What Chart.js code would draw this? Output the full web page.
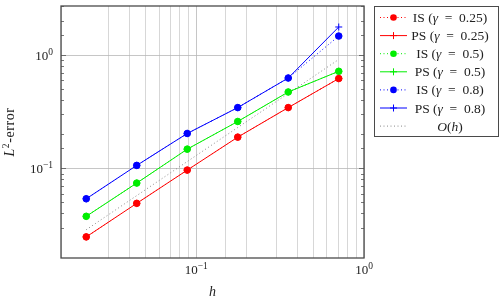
<!DOCTYPE html>
<html lang="en">
<head>
<meta charset="UTF-8">
<title>L2-error vs h</title>
<script src="https://cdn.jsdelivr.net/npm/chart.js"></script>
<style>
  html, body { margin: 0; padding: 0; background: #fff; }
  #wrap { width: 503px; height: 301px; position: relative; }
</style>
</head>
<body>
<div id="wrap"><canvas id="myChart"></canvas></div>
<script>
// mesh sizes and errors
const hValues = [0.0221, 0.0442, 0.0884, 0.1768, 0.3536, 0.7071];
const isG025 = [0.0248, 0.0491, 0.0966, 0.189, 0.345, 0.623];
const psG025 = [0.0248, 0.0491, 0.0966, 0.189, 0.345, 0.623];
const isG05 = [0.0377, 0.0742, 0.148, 0.260, 0.474, 0.722];
const psG05 = [0.0377, 0.0742, 0.148, 0.260, 0.474, 0.722];
const isG08 = [0.0539, 0.1063, 0.2037, 0.345, 0.630, 1.48];
const psG08 = [0.0539, 0.1063, 0.2037, 0.345, 0.630, 1.78];
const orderH = [0.0287, 0.0575, 0.115, 0.230, 0.460, 0.919];

const gammaLabels = ['0.25', '0.25', '0.5', '0.5', '0.8', '0.8'];

const serif = '"Liberation Serif", "DejaVu Serif", serif';

function pts(vals) {
    return hValues.map((h, i) => ({ x: h, y: vals[i] }));
}

function isDecade(v) {
    const l = Math.log10(v);
    return Math.abs(l - Math.round(l)) < 1e-6;
}

function series(label, vals, color, solid) {
    return {
        label: label,
        data: pts(vals),
        borderColor: color,
        backgroundColor: color,
        borderWidth: 1,
        borderDash: solid ? [] : [1, 2.5],
        pointStyle: solid ? 'cross' : 'circle',
        pointRadius: solid ? 3.5 : 3.3,
        pointBorderWidth: 1,
        tension: 0
    };
}

// draw text made of runs with different styles
function drawRuns(ctx, runs, x, y, align, spacing) {
    ctx.letterSpacing = (spacing || 0) + 'px';
    let w = 0;
    runs.forEach(r => {
        ctx.font = (r.italic ? 'italic ' : '') + r.size + 'px ' + serif;
        r.w = ctx.measureText(r.t).width;
        w += r.w;
    });
    let cx = align === 'center' ? x - w / 2 : (align === 'right' ? x - w : x);
    ctx.textAlign = 'left';
    ctx.textBaseline = 'alphabetic';
    runs.forEach(r => {
        ctx.font = (r.italic ? 'italic ' : '') + r.size + 'px ' + serif;
        ctx.fillText(r.t, cx, y - (r.rise || 0));
        cx += r.w;
    });
    ctx.letterSpacing = '0px';
}

function powRuns(v) {
    const e = Math.round(Math.log10(v));
    return [
        { t: '10', size: 13 },
        { t: String(e).replace('-', '\u2212'), size: 9.5, rise: 5 }
    ];
}

const pgfLook = {
    id: 'pgfLook',
    afterDraw(chart) {
        const ctx = chart.ctx;
        const a = chart.chartArea;
        const xs = chart.scales.x;
        const ys = chart.scales.y;
        ctx.save();

        // inward tick marks on y (left and right)
        ctx.strokeStyle = '#555';
        ctx.lineWidth = 0.8;
        ys.ticks.forEach(t => {
            const y = Math.round(ys.getPixelForValue(t.value)) + 0.5;
            if (y < a.top || y > a.bottom) return;
            const len = isDecade(t.value) ? 5 : 3;
            ctx.beginPath();
            ctx.moveTo(a.left, y); ctx.lineTo(a.left + len, y);
            ctx.moveTo(a.right, y); ctx.lineTo(a.right - len, y);
            ctx.stroke();
        });

        // axis box
        ctx.strokeStyle = '#4a4a4a';
        ctx.lineWidth = 1.3;
        ctx.strokeRect(a.left, a.top, a.right - a.left, a.bottom - a.top);

        // tick labels
        ctx.fillStyle = '#222';
        xs.ticks.forEach(t => {
            if (!isDecade(t.value)) return;
            const x = xs.getPixelForValue(t.value);
            drawRuns(ctx, powRuns(t.value), x, a.bottom + 16, 'center');
        });
        ys.ticks.forEach(t => {
            if (!isDecade(t.value)) return;
            const y = ys.getPixelForValue(t.value);
            drawRuns(ctx, powRuns(t.value), a.left - 8, y + 5, 'right');
        });

        // axis titles
        drawRuns(ctx, [{ t: 'h', size: 14, italic: true }], (a.left + a.right) / 2, 296, 'center');
        ctx.save();
        ctx.translate(14, (a.top + a.bottom) / 2);
        ctx.rotate(-Math.PI / 2);
        drawRuns(ctx, [
            { t: 'L', size: 14, italic: true },
            { t: '2', size: 9.5, rise: 5.5 },
            { t: '-error', size: 14 }
        ], 0, 0, 'center', 0.6);
        ctx.restore();

        // legend
        const lx = 374.5, ly = 6.5, lw = 124, lh = 130;
        ctx.fillStyle = '#fff';
        ctx.fillRect(lx, ly, lw, lh);
        ctx.strokeStyle = '#4a4a4a';
        ctx.lineWidth = 1;
        ctx.strokeRect(lx, ly, lw, lh);
        chart.data.datasets.forEach((ds, i) => {
            const cy = 17.5 + i * 18.1;
            ctx.strokeStyle = ds.borderColor;
            ctx.fillStyle = ds.borderColor;
            ctx.lineWidth = 1;
            ctx.setLineDash(ds.borderDash);
            ctx.beginPath();
            ctx.moveTo(380, cy); ctx.lineTo(407, cy);
            ctx.stroke();
            ctx.setLineDash([]);
            if (ds.pointRadius > 0) {
                if (ds.pointStyle === 'cross') {
                    ctx.beginPath();
                    ctx.moveTo(393.5 - 3.5, cy); ctx.lineTo(393.5 + 3.5, cy);
                    ctx.moveTo(393.5, cy - 3.5); ctx.lineTo(393.5, cy + 3.5);
                    ctx.stroke();
                } else {
                    ctx.beginPath();
                    ctx.arc(393.5, cy, 3.3, 0, Math.PI * 2);
                    ctx.fill();
                }
            }
            ctx.fillStyle = '#222';
            let runs;
            if (i < 6) {
                runs = [
                    { t: ds.label + ' (', size: 13.5 },
                    { t: '\u03b3', size: 13.5, italic: true },
                    { t: '\u2002=\u2002' + gammaLabels[i] + ')', size: 13.5 }
                ];
            } else {
                runs = [
                    { t: 'O', size: 13.5, italic: true },
                    { t: '(', size: 13.5 },
                    { t: 'h', size: 13.5, italic: true },
                    { t: ')', size: 13.5 }
                ];
            }
            drawRuns(ctx, runs, 450, cy + 4.5, 'center');
        });
        ctx.restore();
    }
};

const ctx = document.getElementById('myChart').getContext('2d');
const myChart = new Chart(ctx, {
    type: 'line',
    data: {
        datasets: [
            series('IS', isG025, '#ff0000', false),
            series('PS', psG025, '#ff0000', true),
            series('IS', isG05, '#00ee00', false),
            series('PS', psG05, '#00ee00', true),
            series('IS', isG08, '#0000ff', false),
            series('PS', psG08, '#0000ff', true),
            {
                label: 'O(h)',
                data: pts(orderH),
                borderColor: '#888',
                borderWidth: 1,
                borderDash: [1, 2.5],
                pointRadius: 0,
                tension: 0
            }
        ]
    },
    options: {
        responsive: true,
        maintainAspectRatio: false,
        animation: false,
        layout: { padding: { left: 0, right: 139, top: 6, bottom: 0 } },
        plugins: {
            legend: { display: false },
            tooltip: { enabled: false }
        },
        scales: {
            x: {
                type: 'logarithmic',
                min: 0.01563,
                max: 1.0,
                border: { display: false },
                grid: {
                    drawTicks: false,
                    color: c => (c.tick && isDecade(c.tick.value)) ? '#b8b8b8' : '#cdcdcd',
                    lineWidth: 0.8
                },
                ticks: { display: false, autoSkip: false },
                afterFit: s => { s.height = 43; }
            },
            y: {
                type: 'logarithmic',
                min: 0.01614,
                max: 2.729,
                border: { display: false },
                grid: {
                    drawTicks: false,
                    color: c => (c.tick && isDecade(c.tick.value)) ? '#b8b8b8' : 'rgba(0,0,0,0)',
                    lineWidth: 0.8
                },
                ticks: { display: false, autoSkip: false },
                afterFit: s => { s.width = 61; }
            }
        }
    },
    plugins: [pgfLook]
});
</script>
</body>
</html>
